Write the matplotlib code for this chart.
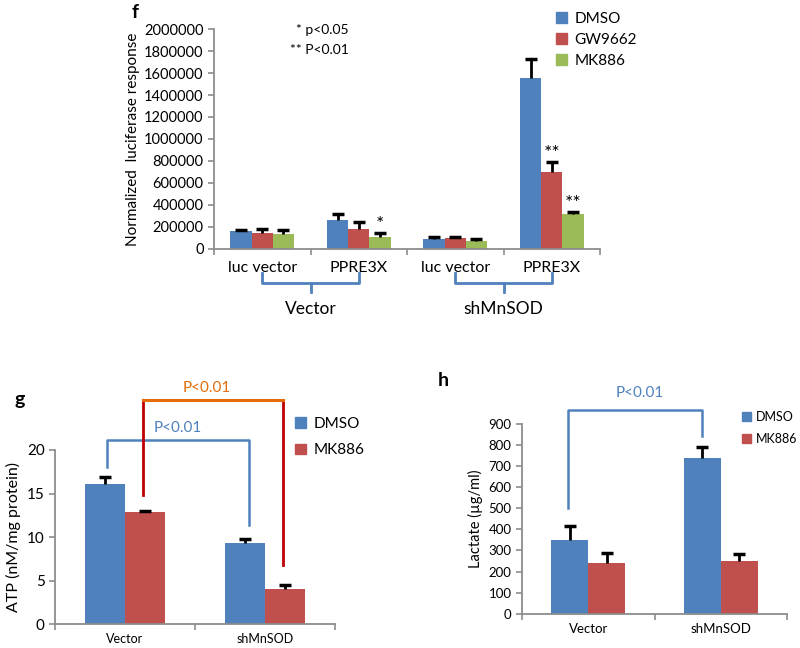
import numpy as np
import matplotlib
matplotlib.use('Agg')
import matplotlib.pyplot as plt
from matplotlib.patches import Patch
from matplotlib.transforms import blended_transform_factory

plt.rcParams['font.family'] = ['Lato', 'DejaVu Sans']

BLUE = '#4F81BD'
RED = '#C0504D'
GREEN = '#9BBB59'
AXGRAY = '#8C8C8C'

# panel f - luciferase
f_groups = ['luc vector', 'PPRE3X', 'luc vector', 'PPRE3X']
f_supergroups = ['Vector', 'shMnSOD']
f_treatments = ['DMSO', 'GW9662', 'MK886']
f_dmso = [160000, 260000, 83000, 1560000]
f_dmso_err = [10000, 55000, 18000, 167000]
f_gw = [146000, 174000, 92000, 697000]
f_gw_err = [31000, 70000, 14000, 92000]
f_mk = [134000, 101000, 70000, 315000]
f_mk_err = [31000, 37000, 18000, 15000]
f_stars = {(1, 2): '*', (3, 1): '**', (3, 2): '**'}  # (group, treatment)

# panel g - ATP
g_cats = ['Vector', 'shMnSOD']
g_dmso = [16.1, 9.3]
g_dmso_err = [0.8, 0.5]
g_mk = [12.85, 4.1]
g_mk_err = [0.15, 0.4]

# panel h - lactate
h_cats = ['Vector', 'shMnSOD']
h_dmso = [350, 737]
h_dmso_err = [66, 56]
h_mk = [239, 252]
h_mk_err = [47, 31]


def bars(ax, x, vals, errs, color, width):
    # excel style: only the upper half of the error bar
    vals = np.asarray(vals, dtype=float)
    tops = vals + np.asarray(errs, dtype=float)
    ax.bar(x, vals, width, color=color, zorder=2)
    ax.vlines(x, vals, tops, color='black', lw=2, zorder=3)
    ax.plot(x, tops, ls='none', marker='_', ms=8, mew=2.5, color='black', zorder=3)


def style(ax, ncat, labels, labsize, pad):
    for s in ['top', 'right']:
        ax.spines[s].set_visible(False)
    for s in ['left', 'bottom']:
        ax.spines[s].set_color(AXGRAY)
        ax.spines[s].set_linewidth(1.3)
    ax.set_xlim(-0.5, ncat - 0.5)
    ax.set_xticks(np.arange(ncat + 1) - 0.5)
    ax.set_xticklabels([])
    ax.set_xticks(np.arange(ncat), minor=True)
    ax.set_xticklabels(labels, minor=True, fontsize=labsize)
    ax.tick_params(axis='x', which='minor', length=0, pad=pad)
    ax.tick_params(which='major', colors=AXGRAY, labelcolor='black',
                   direction='out', length=4, width=1.2)


fig = plt.figure(figsize=(8, 6.48), dpi=100)

# ---------------- panel f ----------------
ax_f = fig.add_axes([0.2675, 0.6165, 0.4825, 0.3383])
x = np.arange(len(f_groups))
w = 0.22
series = [(f_dmso, f_dmso_err, BLUE), (f_gw, f_gw_err, RED), (f_mk, f_mk_err, GREEN)]
for i, (v, e, c) in enumerate(series):
    bars(ax_f, x + (i - 1) * w, v, e, c, w)
for (g, t), s in f_stars.items():
    v, e, _ = series[t]
    ax_f.annotate(s, (g + (t - 1) * w, v[g] + e[g]), xytext=(0, 0),
                  textcoords='offset points', ha='center', va='bottom', fontsize=14)
style(ax_f, 4, f_groups, 11.5, 9)
ax_f.set_ylim(0, 2000000)
ax_f.set_yticks(np.arange(0, 2000001, 200000))
ax_f.set_yticklabels([str(t) for t in range(0, 2000001, 200000)], fontsize=10.5)
ax_f.set_ylabel('Normalized  luciferase response', fontsize=11, labelpad=3)

# group brackets under the axis
tr = blended_transform_factory(ax_f.transData, ax_f.transAxes)
for k, name in enumerate(f_supergroups):
    x0, x1 = 2 * k, 2 * k + 1
    ax_f.plot([x0, x0, x1, x1], [-0.112, -0.157, -0.157, -0.112], color=BLUE,
              lw=2, transform=tr, clip_on=False)
    ax_f.plot([x0 + 0.5, x0 + 0.5], [-0.157, -0.198], color=BLUE, lw=2,
              transform=tr, clip_on=False)
    ax_f.text(x0 + 0.5, -0.275, name, transform=tr, ha='center', va='center', fontsize=12.5)

ax_f.legend(handles=[Patch(color=c, label=l) for (_, _, c), l in zip(series, f_treatments)],
            loc='upper left', bbox_to_anchor=(556 / 800, 1 - 12 / 648),
            bbox_transform=fig.transFigure, frameon=False, fontsize=11,
            handlelength=0.7, handleheight=0.7, handletextpad=0.5,
            labelspacing=0.45, borderpad=0, borderaxespad=0)
fig.text(349 / 800, 1 - 30 / 648, '* p<0.05', ha='right', va='center', fontsize=10)
fig.text(349 / 800, 1 - 50 / 648, '** P<0.01', ha='right', va='center', fontsize=10)
fig.text(135 / 800, 1 - 12 / 648, 'f', ha='center', va='center', fontsize=14, fontweight='bold')

# ---------------- panel g ----------------
ax_g = fig.add_axes([0.06875, 0.0366, 0.35, 0.269])
xg = np.arange(len(g_cats))
wg = 0.285
bars(ax_g, xg - wg / 2, g_dmso, g_dmso_err, BLUE, wg)
bars(ax_g, xg + wg / 2, g_mk, g_mk_err, RED, wg)
style(ax_g, 2, g_cats, 9, 6)
ax_g.set_ylim(0, 20)
ax_g.set_yticks([0, 5, 10, 15, 20])
ax_g.tick_params(axis='y', labelsize=11)
ax_g.set_ylabel('ATP (nM/mg protein)', fontsize=11.5, labelpad=4)

# significance brackets
ax_g.plot([-0.13, -0.13, 0.886, 0.886], [18.05, 21.16, 21.16, 11.4],
          color=BLUE, lw=1.8, clip_on=False)
ax_g.text(0.379, 22.5, 'P<0.01', color=BLUE, ha='center', va='center', fontsize=11)
ax_g.plot([0.129, 0.129], [14.8, 25.7], color='#C00000', lw=2, clip_on=False)
ax_g.plot([1.129, 1.129], [25.7, 6.8], color='#C00000', lw=2, clip_on=False)
ax_g.plot([0.129, 1.129], [25.7, 25.7], color='#E46C0A', lw=2.2, clip_on=False)
ax_g.text(0.586, 27.1, 'P<0.01', color='#E46C0A', ha='center', va='center', fontsize=11)

ax_g.legend(handles=[Patch(color=BLUE, label='DMSO'), Patch(color=RED, label='MK886')],
            loc='upper left', bbox_to_anchor=(295 / 800, 1 - 417 / 648),
            bbox_transform=fig.transFigure, frameon=False, fontsize=11,
            handlelength=0.7, handleheight=0.7, handletextpad=0.5,
            labelspacing=0.8, borderpad=0, borderaxespad=0)
fig.text(20 / 800, 1 - 400 / 648, 'g', ha='center', va='center', fontsize=14, fontweight='bold')

# ---------------- panel h ----------------
ax_h = fig.add_axes([0.6525, 0.0529, 0.33125, 0.2927])
xh = np.arange(len(h_cats))
wh = 0.28
bars(ax_h, xh - wh / 2, h_dmso, h_dmso_err, BLUE, wh)
bars(ax_h, xh + wh / 2, h_mk, h_mk_err, RED, wh)
style(ax_h, 2, h_cats, 9.5, 7)
ax_h.set_ylim(0, 900)
ax_h.set_yticks(np.arange(0, 901, 100))
ax_h.tick_params(axis='y', labelsize=9.5)
ax_h.set_ylabel('Lactate (µg/ml)', fontsize=10.5, labelpad=4)

ax_h.plot([-0.155, -0.155, 0.858, 0.858], [502, 967, 967, 843],
          color=BLUE, lw=1.8, clip_on=False)
ax_h.text(0.39, 1048, 'P<0.01', color=BLUE, ha='center', va='center', fontsize=11)

ax_h.legend(handles=[Patch(color=BLUE, label='DMSO'), Patch(color=RED, label='MK886')],
            loc='upper right', bbox_to_anchor=(797 / 800, 1 - 411 / 648),
            bbox_transform=fig.transFigure, frameon=False, fontsize=9,
            handlelength=0.75, handleheight=0.75, handletextpad=0.35,
            labelspacing=0.8, borderpad=0, borderaxespad=0)
fig.text(443 / 800, 1 - 380 / 648, 'h', ha='center', va='center', fontsize=14, fontweight='bold')

fig.savefig('out.png', dpi=100)
